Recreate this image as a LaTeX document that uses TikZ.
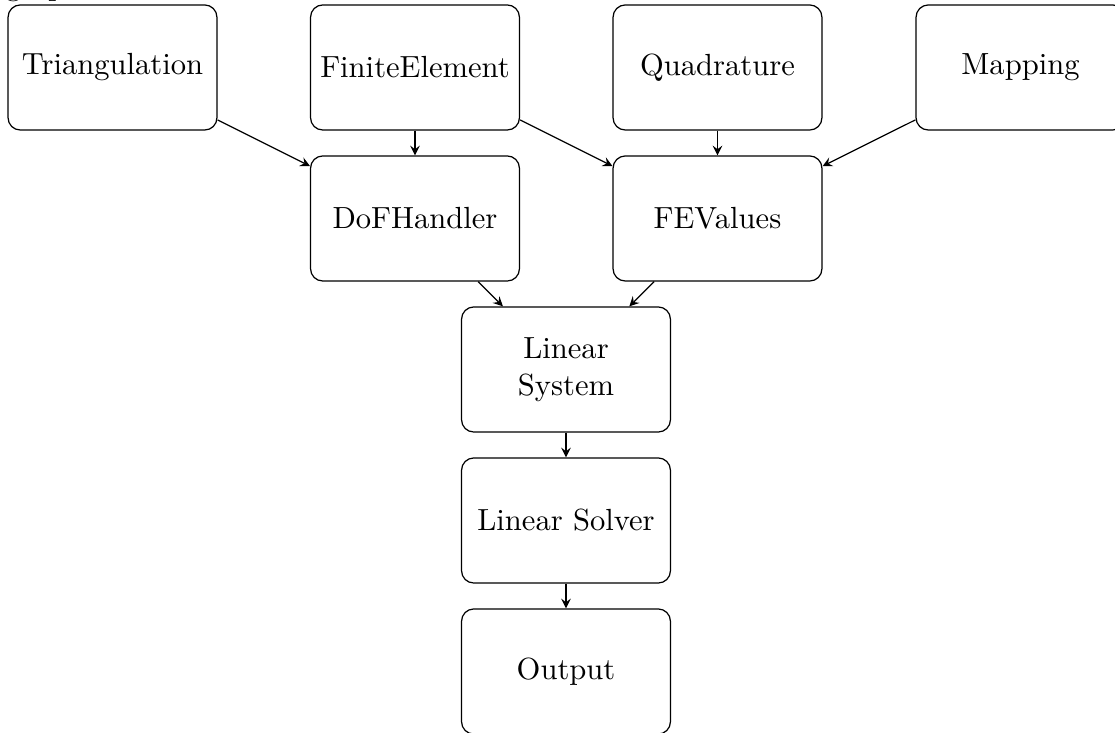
\documentclass[tikz,border=0pt]{standalone}
\usetikzlibrary{arrows}
\begin{document}
\begin{tikzpicture}[x=0.327pt,y=-0.327pt,
  blk/.style={draw,rounded corners=4pt,minimum width=68.3pt,minimum height=40.9pt,align=center,inner sep=2pt},
  conn/.style={-stealth,thin}]
\useasboundingbox (0,0) rectangle (1115,733);
\node[anchor=base west,inner sep=0pt] (title) at (5,-4) {graph};
\node[blk] (tri) at (112.5,67.5) {Triangulation};
\node[blk] (fe)  at (415,67.5) {FiniteElement};
\node[blk] (quad) at (717.5,67.5) {Quadrature};
\node[blk] (map) at (1020.5,67.5) {Mapping};
\node[blk] (dof) at (415,218.5) {DoFHandler};
\node[blk] (fev) at (717.5,218.5) {FEValues};
\node[blk] (ls) at (566,369.5) {Linear\\System};
\node[blk] (solver) at (566,520.5) {Linear Solver};
\node[blk] (out) at (566,671.5) {Output};
\draw[conn] (tri) -- (dof);
\draw[conn] (fe) -- (dof);
\draw[conn] (fe) -- (fev);
\draw[conn] (quad) -- (fev);
\draw[conn] (map) -- (fev);
\draw[conn] (dof) -- (ls);
\draw[conn] (fev) -- (ls);
\draw[conn] (ls) -- (solver);
\draw[conn] (solver) -- (out);
\end{tikzpicture}
\end{document}
